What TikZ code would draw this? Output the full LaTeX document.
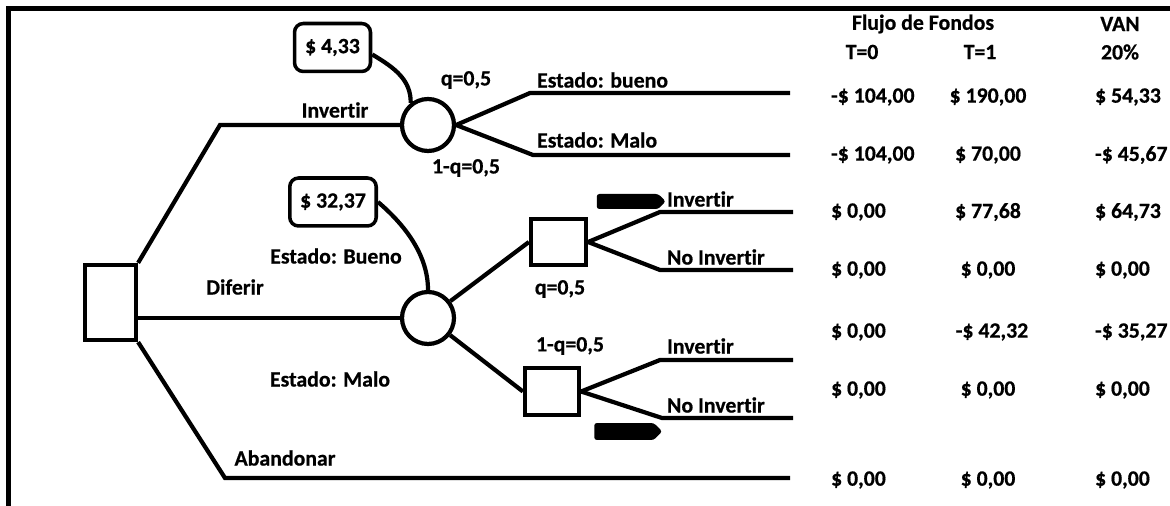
\documentclass[tikz,border=0pt]{standalone}
\usepackage{fontspec}
\setmainfont{Carlito}[Ligatures=NoCommon, BoldFeatures={FakeBold=0.6}]
\usepackage{tikz}
\usetikzlibrary{positioning, arrows.meta, shapes.symbols}

\begin{document}
\begin{tikzpicture}[x=0.02cm,y=-0.02cm,line width=2.4pt,
    every node/.style={font=\bfseries\fontsize{12.4}{14}\selectfont,inner sep=0pt},
    decision/.style={draw,rectangle,fill=white},
    chance/.style={draw,circle,fill=white,minimum size=1.04cm},
    value/.style={draw,rounded corners=5pt,line width=2pt,minimum height=0.96cm},
    tag/.style={signal,signal to=east,fill=black,rounded corners=1.5pt},
]

    \useasboundingbox (0,0) rectangle (1170,506);
    \draw[line width=2.3pt] (8.5,506) -- (8.5,8.5) -- (1170,8.5);

    % nodes of the tree
    \node[decision, minimum width=1.02cm, minimum height=1.5cm] (sq1) at (110.5,302.5) {};
    \node[chance] (c1) at (428,125) {};
    \node[chance] (c2) at (428,318) {};
    \node[decision, minimum width=1.1cm, minimum height=0.92cm] (sq2) at (558.5,242) {};
    \node[decision, minimum width=1.08cm, minimum height=0.94cm] (sq3) at (552,391.5) {};

    \node[value, minimum width=1.52cm] (v1) at (332.5,47.5) {\$ 4,33};
    \node[value, minimum width=1.73cm] (v2) at (333,202) {\$ 32,37};

    \node[tag, minimum width=1.38cm, minimum height=0.3cm] (t1) at (627.5,201.5) {};
    \node[tag, minimum width=1.36cm, minimum height=0.34cm] (t2) at (624,431.5) {};

    % bends and ends of the branches
    \coordinate (k1) at (220,125);
    \coordinate (k2) at (225,478);
    \coordinate (e7) at (790,478);
    \coordinate (b1) at (530,93);
    \coordinate (e1) at (790,93);
    \coordinate (b2) at (533,155);
    \coordinate (e2) at (790,155);
    \coordinate (b3) at (660,212);
    \coordinate (e3) at (793,212);
    \coordinate (b4) at (660,270);
    \coordinate (e4) at (793,270);
    \coordinate (b5) at (660,360);
    \coordinate (e5) at (793,360);
    \coordinate (b6) at (662,418);
    \coordinate (e6) at (793,418);

    \draw (sq1.north east) -- (k1) -- (c1);
    \draw (sq1.east |- c2) -- (c2);
    \draw (sq1.south east) -- (k2) -- (e7);

    \draw (c1.east) -- (b1) -- (e1);
    \draw (c1.east) -- (b2) -- (e2);

    \draw (c2) -- (sq2.west);
    \draw (c2) -- (sq3.west);

    \draw (sq2.east) -- (b3) -- (e3);
    \draw (sq2.east) -- (b4) -- (e4);
    \draw (sq3.east) -- (b5) -- (e5);
    \draw (sq3.east) -- (b6) -- (e6);

    \draw (v1.-10) .. controls (395,68) and (411,80) .. (c1.128);
    \draw (v2.east) .. controls (405,225) and (428,255) .. (c2.north);

    % labels of the branches
    \node (lInv) at (335,110) {Invertir};
    \node (lq1) at (466,80) {q=0,5};
    \node (lq1b) at (466,168) {1-q=0,5};
    \node[anchor=west] (lBueno1) at (535,80) {Estado: bueno};
    \node[anchor=west] (lMalo1) at (535,140) {Estado: Malo};
    \node (lDif) at (235,287) {Diferir};
    \node (lBueno2) at (336,256) {Estado: Bueno};
    \node (lMalo2) at (330,379) {Estado: Malo};
    \node (lAban) at (285,458) {Abandonar};
    \node (lq2) at (560,289) {q=0,5};
    \node (lq2b) at (570,346) {1-q=0,5};
    \node[anchor=west] (lInv2) at (665,199) {Invertir};
    \node[anchor=west] (lNo2) at (665,257) {No Invertir};
    \node[anchor=west] (lInv3) at (665,346) {Invertir};
    \node[anchor=west] (lNo3) at (665,405) {No Invertir};

    % table
    \node (hFlujo) at (923,24) {Flujo de Fondos};
    \node (hVan) at (1120,24) {VAN};
    \node (hT0) at (862,52) {T=0};
    \node (hT1) at (980,52) {T=1};
    \node (hPct) at (1120,52) {20\%};

    \node[anchor=west] (r1a) at (829,97) {-\$ 104,00};
    \node (r1b) at (988,97) {\$ 190,00};
    \node[anchor=west] (r1c) at (1093,97) {\$ 54,33};

    \node[anchor=west] (r2a) at (829,155) {-\$ 104,00};
    \node (r2b) at (988,155) {\$ 70,00};
    \node[anchor=west] (r2c) at (1093,155) {-\$ 45,67};

    \node[anchor=west] (r3a) at (829,212) {\$ 0,00};
    \node (r3b) at (988,212) {\$ 77,68};
    \node[anchor=west] (r3c) at (1093,212) {\$ 64,73};

    \node[anchor=west] (r4a) at (829,270) {\$ 0,00};
    \node (r4b) at (988,270) {\$ 0,00};
    \node[anchor=west] (r4c) at (1093,270) {\$ 0,00};

    \node[anchor=west] (r5a) at (829,332) {\$ 0,00};
    \node (r5b) at (992,332) {-\$ 42,32};
    \node[anchor=west] (r5c) at (1093,332) {-\$ 35,27};

    \node[anchor=west] (r6a) at (829,390) {\$ 0,00};
    \node (r6b) at (988,390) {\$ 0,00};
    \node[anchor=west] (r6c) at (1093,390) {\$ 0,00};

    \node[anchor=west] (r7a) at (829,480) {\$ 0,00};
    \node (r7b) at (988,480) {\$ 0,00};
    \node[anchor=west] (r7c) at (1093,480) {\$ 0,00};

\end{tikzpicture}
\end{document}
